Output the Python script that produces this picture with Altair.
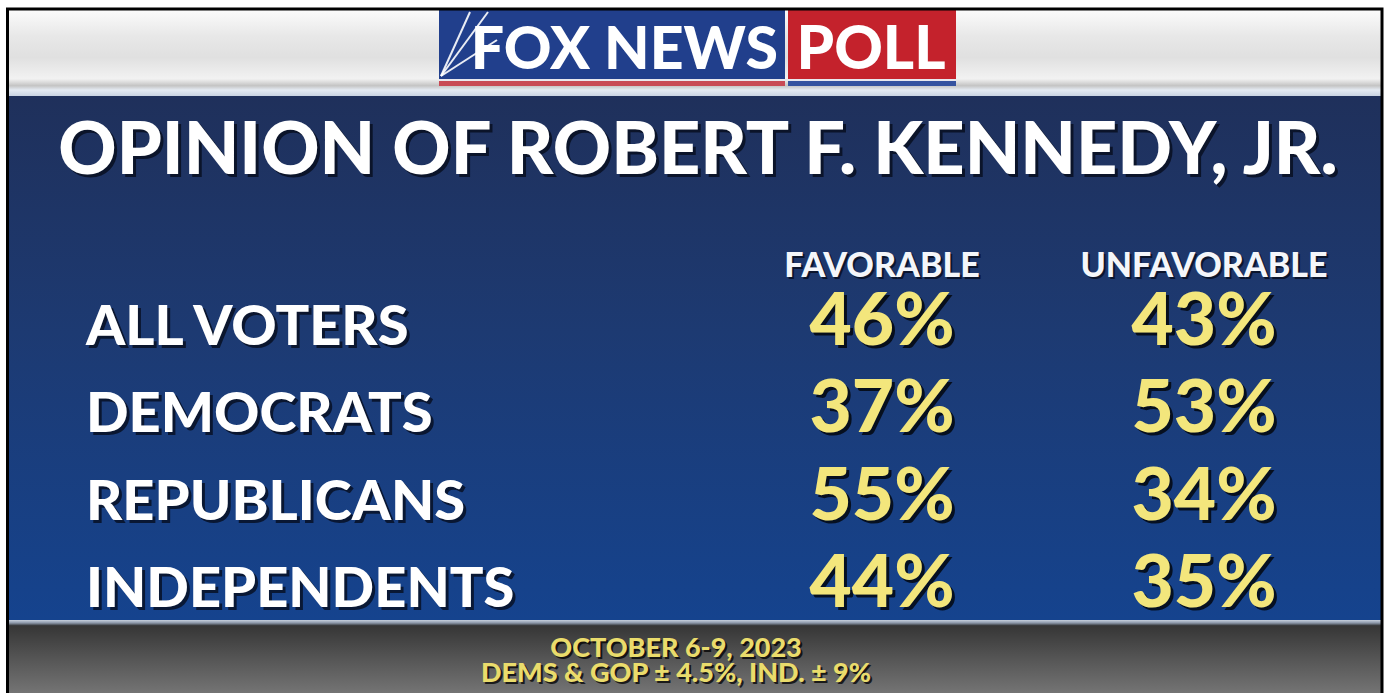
import altair as alt
import pandas as pd

# ---- data ----
groups = ["ALL VOTERS", "DEMOCRATS", "REPUBLICANS", "INDEPENDENTS"]
favorable = [46, 37, 55, 44]
unfavorable = [43, 53, 34, 35]
columns = ["FAVORABLE", "UNFAVORABLE"]
title_text = ["OPINION OF ROBERT F. KENNEDY, JR."]
footer_lines = ["OCTOBER 6-9, 2023", "DEMS & GOP \u00b1 4.5%, IND. \u00b1 9%"]
logo_words = ["FOX NEWS", "POLL"]

W, H = 1389, 693
FONT = "Lato"

rows = pd.DataFrame({"group": groups, "FAVORABLE": favorable, "UNFAVORABLE": unfavorable})
cells = rows.melt(id_vars="group", var_name="col", value_name="pct")
cells["label"] = cells["pct"].astype(str) + "%"
heads = pd.DataFrame({"col": columns})
one = pd.DataFrame({"k": [0]})

yscale = alt.Scale(type="point", domain=groups, range=[345, 607], padding=0)
xscale = alt.Scale(type="point", domain=columns, range=[882, 1204], padding=0)


def grad(stops):
    return alt.LinearGradient(
        gradient="linear",
        stops=[alt.GradientStop(color=c, offset=o) for o, c in stops],
        x1=0, x2=0, y1=0, y2=1,
    )


def box(x, x2, y, y2, fill):
    return alt.Chart(one).mark_rect(color=fill).encode(
        x=alt.value(x), x2=alt.value(x2), y=alt.value(y), y2=alt.value(y2)
    )


# ---- backgrounds ----
top_band = box(9, 1381, 10, 96, grad([(0, "#fbfbfb"), (0.3, "#e8e8e8"), (0.55, "#e0e0e0"),
                                      (0.8, "#f2f2f2"), (0.88, "#c4c4c4"), (0.93, "#e4eaf2"),
                                      (1, "#c9d3e2")]))
blue_panel = box(9, 1381, 96, 621, grad([(0, "#1f305b"), (0.45, "#1d3a72"), (1, "#15438e")]))
sep_bottom = box(9, 1381, 620, 626, grad([(0, "#c7d0de"), (0.5, "#8a96a8"), (1, "#2a2a2a")]))
gray_band = box(9, 1381, 626, 693, grad([(0, "#363636"), (0.5, "#565656"), (1, "#747474")]))

# ---- logo ----
logo_blue = box(439, 785, 10, 80, "#213f8c")
logo_red = box(788, 956, 10, 80, "#c4222c")
logo_line = box(439, 956, 79, 81, "#e8e8ee")
stripe_red = box(439, 785, 81, 86, "#c84a55")
stripe_blue = box(788, 956, 81, 86, "#3553a0")

beams = pd.DataFrame({"x": [441, 441, 441], "y": [76, 76, 76],
                      "x2": [488, 470, 497], "y2": [12, 12, 40]})
beam_marks = alt.Chart(beams).mark_rule(color="white", strokeWidth=2, opacity=0.9).encode(
    x=alt.X("x:Q", scale=None), y=alt.Y("y:Q", scale=None),
    x2="x2:Q", y2="y2:Q",
)

logo_fox = alt.Chart(pd.DataFrame({"t": [logo_words[0]]})).mark_text(
    font=FONT, fontWeight=900, fontSize=59, color="white", align="right", baseline="alphabetic"
).encode(x=alt.value(778), y=alt.value(69), text="t:N")
logo_poll = alt.Chart(pd.DataFrame({"t": [logo_words[1]]})).mark_text(
    font=FONT, fontWeight=900, fontSize=60, color="white", align="center", baseline="alphabetic"
).encode(x=alt.value(871), y=alt.value(69), text="t:N")


def shadowed(data, enc, size, color, align, shadow="#050a18", off=3):
    base = dict(font=FONT, fontWeight=900, fontSize=size, align=align, baseline="alphabetic")
    sh = alt.Chart(data).mark_text(color=shadow, opacity=0.75, dx=off, dy=off, **base).encode(**enc)
    fg = alt.Chart(data).mark_text(color=color, **base).encode(**enc)
    return [sh, fg]


title_layers = shadowed(pd.DataFrame({"t": title_text}),
                        dict(x=alt.value(698), y=alt.value(174), text="t:N"),
                        72, "white", "center")

head_layers = shadowed(heads,
                       dict(x=alt.X("col:N", scale=xscale, axis=None), y=alt.value(277), text="col:N"),
                       34, "#f4f6fa", "center", off=2)

label_layers = shadowed(rows,
                        dict(x=alt.value(86), y=alt.Y("group:N", scale=yscale, axis=None), text="group:N"),
                        56, "white", "left")

num_layers = shadowed(cells,
                      dict(x=alt.X("col:N", scale=xscale, axis=None),
                           y=alt.Y("group:N", scale=yscale, axis=None), text="label:N"),
                      73, "#f3e67c", "center", shadow="#000000")

foot = pd.DataFrame({"line": footer_lines, "order": [0, 1]})
foot_scale = alt.Scale(type="point", domain=footer_lines, range=[657, 682], padding=0)
foot_layers = shadowed(foot,
                       dict(x=alt.value(676), y=alt.Y("line:N", scale=foot_scale, axis=None), text="line:N"),
                       27, "#eadc6c", "center", shadow="#000000", off=2)

border = alt.Chart(one).mark_rect(fillOpacity=0, stroke="black", strokeWidth=3).encode(
    x=alt.value(7.5), x2=alt.value(1382), y=alt.value(9), y2=alt.value(720)
)

chart = alt.layer(
    top_band, blue_panel, sep_bottom, gray_band,
    logo_blue, logo_red, logo_line, stripe_red, stripe_blue, beam_marks, logo_fox, logo_poll,
    *title_layers, *head_layers, *label_layers, *num_layers, *foot_layers,
    border,
).resolve_scale(x="independent", y="independent").properties(
    width=W, height=H, padding=0, autosize="none", background="white"
).configure_view(strokeWidth=0)

chart.save("out.html", embed_options={"renderer": "svg", "actions": False})
